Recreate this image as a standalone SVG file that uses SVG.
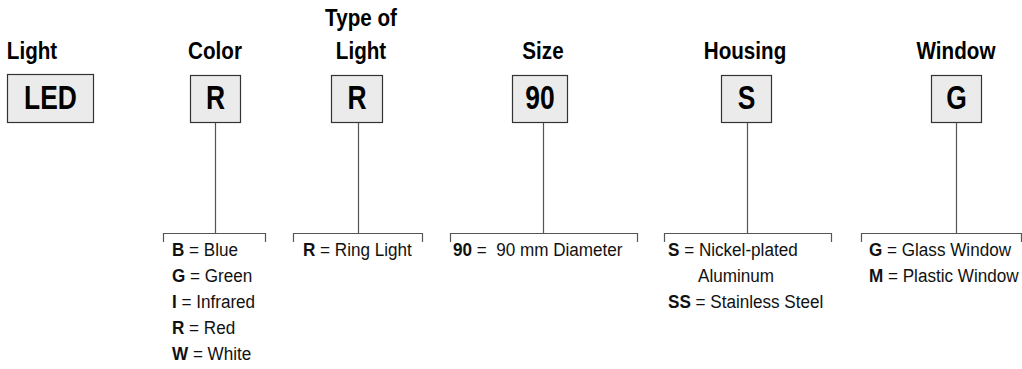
<svg xmlns="http://www.w3.org/2000/svg" width="1022" height="369" viewBox="0 0 1022 369">
<style>
.hd{font-family:"Liberation Sans",Arial,sans-serif;font-weight:bold;font-size:24px;fill:#000;text-anchor:middle}
.bx{fill:#ebebeb;stroke:#333;stroke-width:1.2}
.bt{font-family:"Liberation Sans",Arial,sans-serif;font-weight:bold;font-size:33px;fill:#000;text-anchor:middle}
.op{font-family:"Liberation Sans",Arial,sans-serif;font-size:19px;fill:#111}
.op tspan.b{font-weight:bold}
.ln{fill:none;stroke:#555;stroke-width:1.2}
</style>
<rect width="1022" height="369" fill="#fff"/>
<g id="light">
<text class="hd" transform="translate(32,59) scale(0.86,1)">Light</text>
<rect class="bx" x="7.5" y="74.5" width="86" height="48"/>
<text class="bt" transform="translate(50.5,109) scale(0.8,1)">LED</text>
</g>
<g id="color">
<text class="hd" transform="translate(215,59) scale(0.86,1)">Color</text>
<rect class="bx" x="190.5" y="75.5" width="50" height="47"/>
<text class="bt" transform="translate(215.5,109) scale(0.8,1)">R</text>
<text class="op" transform="translate(172,256) scale(0.9,1)"><tspan class="b">B</tspan> = Blue</text>
<text class="op" transform="translate(172,282) scale(0.9,1)"><tspan class="b">G</tspan> = Green</text>
<text class="op" transform="translate(172,308) scale(0.9,1)"><tspan class="b">I</tspan> = Infrared</text>
<text class="op" transform="translate(172,334) scale(0.9,1)"><tspan class="b">R</tspan> = Red</text>
<text class="op" transform="translate(172,360) scale(0.9,1)"><tspan class="b">W</tspan> = White</text>
</g>
<g id="type">
<text class="hd" transform="translate(361,26) scale(0.86,1)">Type of</text>
<text class="hd" transform="translate(361,59) scale(0.86,1)">Light</text>
<rect class="bx" x="331.5" y="75.5" width="51" height="47"/>
<text class="bt" transform="translate(357,109) scale(0.8,1)">R</text>
<text class="op" transform="translate(303,256) scale(0.9,1)"><tspan class="b">R</tspan> = Ring Light</text>
</g>
<g id="size">
<text class="hd" transform="translate(543,59) scale(0.86,1)">Size</text>
<rect class="bx" x="512.5" y="75.5" width="55" height="47"/>
<text class="bt" transform="translate(540,109) scale(0.8,1)">90</text>
<text class="op" transform="translate(453,256) scale(0.9,1)" xml:space="preserve"><tspan class="b">90</tspan> =  90 mm Diameter</text>
</g>
<g id="housing">
<text class="hd" transform="translate(745,59) scale(0.86,1)">Housing</text>
<rect class="bx" x="721.5" y="75.5" width="50" height="47"/>
<text class="bt" transform="translate(746.5,109) scale(0.8,1)">S</text>
<text class="op" transform="translate(668,256) scale(0.9,1)"><tspan class="b">S</tspan> = Nickel-plated</text>
<text class="op" transform="translate(698,282) scale(0.9,1)">Aluminum</text>
<text class="op" transform="translate(668,308) scale(0.9,1)"><tspan class="b">SS</tspan> = Stainless Steel</text>
</g>
<g id="window">
<text class="hd" transform="translate(956,59) scale(0.86,1)">Window</text>
<rect class="bx" x="931.5" y="75.5" width="50" height="47"/>
<text class="bt" transform="translate(956.5,109) scale(0.8,1)">G</text>
<text class="op" transform="translate(869,256) scale(0.9,1)"><tspan class="b">G</tspan> = Glass Window</text>
<text class="op" transform="translate(869,282) scale(0.9,1)"><tspan class="b">M</tspan> = Plastic Window</text>
</g>
<g id="connectors">
<path class="ln" d="M215.5 123V233.5M163.5 242V233.5H265.5V242"/>
<path class="ln" d="M358.5 123V233.5M293.5 242V233.5H422.5V242"/>
<path class="ln" d="M543.5 123V233.5M450.5 242V233.5H637.5V242"/>
<path class="ln" d="M747.5 123V233.5M664.5 242V233.5H831.5V242"/>
<path class="ln" d="M956.5 123V233.5M861.5 242V233.5H1021.5V242"/>
</g>
</svg>
